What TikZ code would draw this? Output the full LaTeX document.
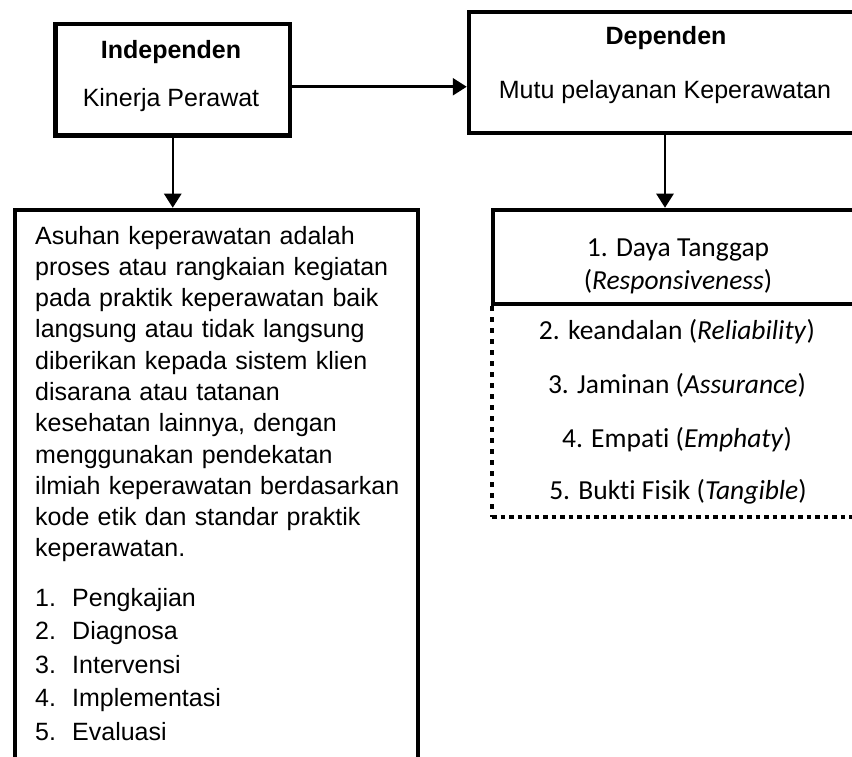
\documentclass[tikz,border=0pt]{standalone}
\usepackage{fontspec}
\setmainfont{Liberation Sans}
\newfontfamily\calib[Ligatures=NoCommon]{Carlito}
\usetikzlibrary{arrows.meta}
\begin{document}
\begin{tikzpicture}[x=1pt,y=-1pt,
  thickbox/.style={draw, line width=4.5pt, rectangle, inner sep=0pt},
  arr/.style={line width=2.5pt, -{Triangle[length=14pt,width=17pt]}},
  dotv/.style={line width=4.5pt, dash pattern=on 5pt off 6pt},
  doth/.style={line width=4.5pt, dash pattern=on 4.5pt off 4pt},
  arialtxt/.style={font=\fontsize{25}{31.3}\selectfont, inner sep=0pt},
  calt/.style={font=\calib\fontsize{27.5}{30}\selectfont, inner sep=0pt},
]
\useasboundingbox (0,0) rectangle (852,757);
\clip (0,0) rectangle (852,757);

% boxes
\node[thickbox, minimum width=234.5pt, minimum height=111.5pt] (ind) at (172.75,79.75) {};
\node[thickbox, minimum width=392pt, minimum height=121pt] (dep) at (665,72.5) {};
\node[thickbox, minimum width=404pt, minimum height=94pt] (daya) at (695,257) {};
\node[thickbox, minimum width=403pt, minimum height=740pt] (asuhan) at (216.5,580) {};

% dotted box
\coordinate (dtl) at (492,306);
\coordinate (dbl) at (492,517);
\coordinate (dbr) at (900,517);
\draw[dotv] (dtl) -- (dbl);
\draw[doth] (dbl) -- (dbr);

% connectors
\draw[arr] ([yshift=-7pt]ind.east) -- ([yshift=-7pt]ind.east -| dep.west);
\draw[arr] (ind.south) -- (ind.south |- asuhan.north);
\draw[arr] (dep.south) -- (dep.south |- daya.north);

% texts
\node[arialtxt, font=\bfseries\fontsize{25}{30}\selectfont] (indT) at (171,52) {Independen};
\node[arialtxt] (indS) at (171,100) {Kinerja Perawat};
\node[arialtxt, font=\bfseries\fontsize{25}{30}\selectfont] (depT) at (666,38) {Dependen};
\node[arialtxt] (depS) at (665,92) {Mutu pelayanan Keperawatan};

\node[calt] (d1) at (678,250) {1. Daya Tanggap};
\node[calt] (d1b) at (678,282) {(\textit{Responsiveness})};
\node[calt] (d2) at (677,332) {2. keandalan (\textit{Reliability})};
\node[calt] (d3) at (677,385) {3. Jaminan (\textit{Assurance})};
\node[calt] (d4) at (677,440) {4. Empati (\textit{Emphaty})};
\node[calt] (d5) at (678,492) {5. Bukti Fisik (\textit{Tangible})};

\node[arialtxt, anchor=base west, text width=390pt, align=left] (para) at (35,244) {%
Asuhan keperawatan adalah\\
proses atau rangkaian kegiatan\\
pada praktik keperawatan baik\\
langsung atau tidak langsung\\
diberikan kepada sistem klien\\
disarana atau tatanan\\
kesehatan lainnya, dengan\\
menggunakan pendekatan\\
ilmiah keperawatan berdasarkan\\
kode etik dan standar praktik\\
keperawatan.};

\node[arialtxt, font=\fontsize{25}{33.5}\selectfont, anchor=base west, text width=390pt, align=left] (list) at (35,606) {%
\makebox[37pt][l]{1.}Pengkajian\\
\makebox[37pt][l]{2.}Diagnosa\\
\makebox[37pt][l]{3.}Intervensi\\
\makebox[37pt][l]{4.}Implementasi\\
\makebox[37pt][l]{5.}Evaluasi};
\end{tikzpicture}
\end{document}
